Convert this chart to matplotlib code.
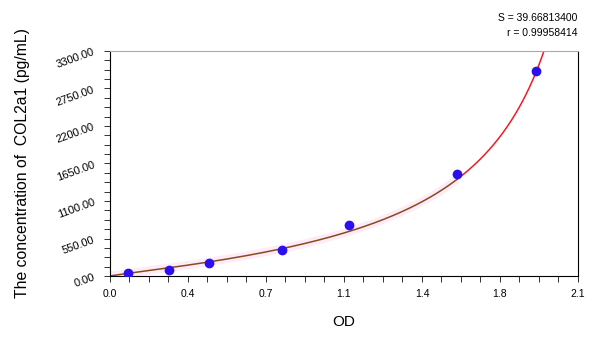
import numpy as np
import matplotlib
matplotlib.use("Agg")
import matplotlib.pyplot as plt
from matplotlib.ticker import MultipleLocator, FixedLocator

# standard points
od = [0.079, 0.266, 0.444, 0.773, 1.072, 1.558, 1.911]
conc = [46.875, 93.75, 187.5, 375.0, 750.0, 1500.0, 3000.0]

x_ticks = [0.0, 0.35, 0.7, 1.05, 1.4, 1.75, 2.1]
x_tick_labels = ["0.0", "0.4", "0.7", "1.1", "1.4", "1.8", "2.1"]
y_ticks = [0, 550, 1100, 1650, 2200, 2750, 3300]
stats_text = "S = 39.66813400\nr = 0.99958414"

plt.rcParams['font.family'] = ['Liberation Sans', 'DejaVu Sans']


# inverse 4PL style curve: conc = c * (x / (a - x)) ** p, fit by grid over a
def fit_curve(x, y):
    x = np.asarray(x)
    y = np.asarray(y)
    best = None
    for a in np.linspace(1.95, 4.0, 400):
        t = np.log(x / (a - x))
        p, lc = np.polyfit(t, np.log(y), 1)
        pred = np.exp(lc) * (x / (a - x)) ** p
        err = np.sum((pred - y) ** 2)
        if best is None or err < best[0]:
            best = (err, a, p, np.exp(lc))
    return best[1:]


a, p, c = fit_curve(od, conc)

fig = plt.figure(figsize=(6, 3.37), dpi=100)
ax = fig.add_axes([0.1833, 0.181, 0.78, 0.6677])

xs = np.linspace(0.0005, min(a - 1e-3, 2.1), 1000)
ys = c * (xs / (a - xs)) ** p
lo = xs <= od[-2]
hi = (xs >= od[-2]) & (ys <= 3500)
ax.plot(xs[lo], ys[lo], color="#fbe0f3", lw=6, alpha=0.6, solid_capstyle="butt", zorder=1)
ax.plot(xs[lo], ys[lo], color="#8b4a1c", lw=1.1, zorder=2)
ax.plot(xs[hi], ys[hi], color="#ee1c24", lw=1.1, zorder=2)
ax.plot(od, conc, "o", color="#2a10f0", markersize=6, zorder=3)

ax.set_xlim(0, 2.1)
ax.set_ylim(0, 3300)
ax.xaxis.set_major_locator(FixedLocator(x_ticks))
ax.set_xticklabels(x_tick_labels)
ax.xaxis.set_minor_locator(MultipleLocator(0.0875))
ax.yaxis.set_major_locator(FixedLocator(y_ticks))
ax.set_yticklabels([f"{v:.2f}" for v in y_ticks], rotation=20, ha="right")
ax.yaxis.set_minor_locator(MultipleLocator(137.5))
ax.tick_params(which="both", direction="out", length=4, width=0.7, color="#333333")
ax.tick_params(axis="x", labelsize=7.5, pad=5)
ax.tick_params(axis="y", labelsize=8, pad=6)

ax.spines["top"].set_color("#aaaaaa")
ax.spines["right"].set_color("black")
for s in ax.spines.values():
    s.set_linewidth(0.8)

ax.set_xlabel("OD", fontsize=11, labelpad=12)
ax.set_ylabel("The concentration of  COL2a1 (pg/mL)", fontsize=11.3)
ax.yaxis.set_label_coords(-0.171, 0.5)

fig.text(0.963, 0.888, stats_text, ha="right", va="bottom", fontsize=7.5, linespacing=1.55)

fig.savefig("out.png", dpi=100)
